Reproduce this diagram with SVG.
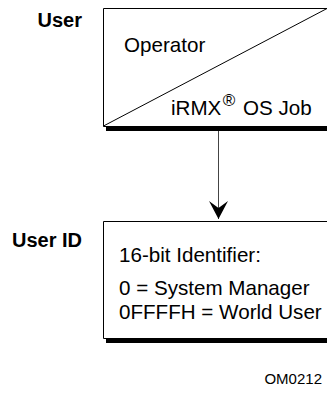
<svg xmlns="http://www.w3.org/2000/svg" width="327" height="394" viewBox="0 0 327 394">
<style>
.lbl{font-family:"Liberation Sans",Arial,sans-serif;font-size:20px;font-weight:bold;fill:#000}
.txt{font-family:"Liberation Sans",Arial,sans-serif;font-size:20.6px;fill:#000}
.sm{font-family:"Liberation Sans",Arial,sans-serif;font-size:15px;fill:#000}
.box{fill:#fff;stroke:#000;stroke-width:1}
.shadow{fill:#000}
</style>
<defs>
<marker id="arr" markerWidth="20" markerHeight="20" refX="18" refY="10" orient="auto" markerUnits="userSpaceOnUse" viewBox="0 0 20 20">
<path d="M0,0.5 L18,10 L0,19.5 L7,10 Z" fill="#000"/>
</marker>
</defs>
<g id="user">
<text class="lbl" x="82" y="27" text-anchor="end">User</text>
<rect class="shadow" x="106" y="126" width="222" height="5"/>
<path class="box" d="M328,8.5 H103.5 V126.5 H328"/>
<line x1="103.5" y1="126" x2="327" y2="8.5" stroke="#000" stroke-width="1"/>
<text class="txt" x="124" y="52">Operator</text>
<text class="txt" x="171" y="115">iRMX<tspan font-size="17" dx="1.5" dy="-9">®</tspan><tspan dx="2" dy="9"> OS Job</tspan></text>
</g>
<g id="connectors">
<line x1="218.5" y1="131" x2="218.5" y2="219" stroke="#444" stroke-width="1" marker-end="url(#arr)"/>
</g>
<g id="userid">
<text class="lbl" x="82" y="247" text-anchor="end">User ID</text>
<rect class="shadow" x="106" y="338" width="222" height="5"/>
<path class="box" d="M328,221.5 H103.5 V338.5 H328"/>
<text class="txt" x="119" y="262">16-bit Identifier:</text>
<text class="txt" x="119" y="295">0 = System Manager</text>
<text class="txt" x="119" y="319">0FFFFH = World User</text>
</g>
<text class="sm" x="322" y="384" text-anchor="end">OM0212</text>
</svg>
